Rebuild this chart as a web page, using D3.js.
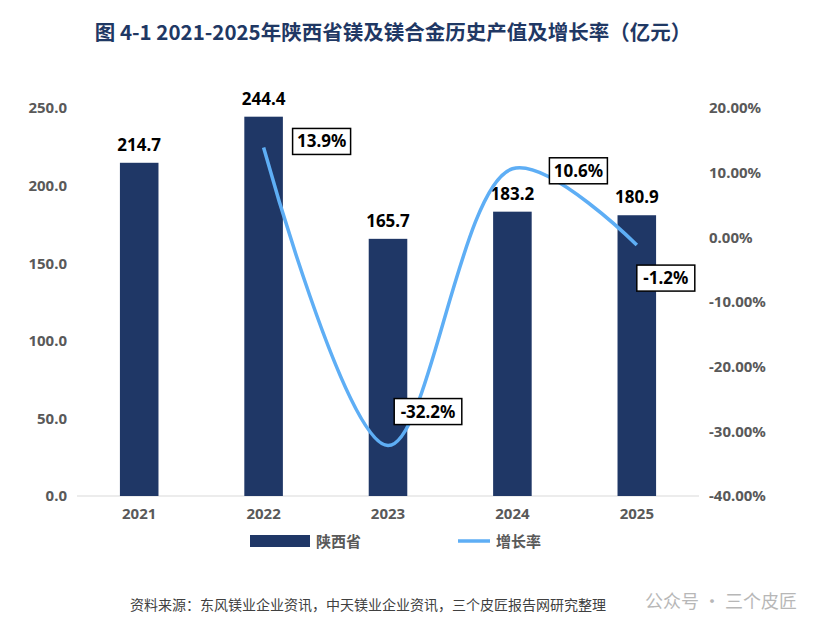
<!DOCTYPE html><html><head><meta charset="utf-8"><script src="https://cdn.jsdelivr.net/npm/d3@7"></script>
<style>body{margin:0;background:#fff;font-family:"Noto Sans CJK SC","Noto Sans",sans-serif}</style></head><body><svg id="c" width="814" height="634"></svg>
<script>
const years=["2021","2022","2023","2024","2025"];
const values=[214.7,244.4,165.7,183.2,180.9];
const growthYears=["2022","2023","2024","2025"];
const growth=[13.9,-32.2,10.6,-1.2];
const leftTicks=[0,50,100,150,200,250];
const rightTicks=[-40,-30,-20,-10,0,10,20];
const svg=d3.select("#c");
const x=d3.scaleBand().domain(years).range([77,699]).paddingInner(0.69).paddingOuter(0.345);
const y=d3.scaleLinear().domain([0,250]).range([496,108]);
const y2=d3.scaleLinear().domain([-40,20]).range([496,108]);
svg.append("text").attr("x",393).attr("y",40).attr("text-anchor","middle").attr("font-size",20.5).attr("font-weight","bold").attr("fill","#1f3864").text("图  4-1 2021-2025年陕西省镁及镁合金历史产值及增长率（亿元）");
const ga=svg.append("g").attr("transform","translate(77,0)").call(d3.axisLeft(y).tickValues(leftTicks).tickFormat(d3.format(".1f")).tickSize(0).tickPadding(10));
const gr=svg.append("g").attr("transform","translate(699,0)").call(d3.axisRight(y2).tickValues(rightTicks).tickFormat(d=>d.toFixed(2)+"%").tickSize(0).tickPadding(10));
const gx=svg.append("g").attr("transform","translate(0,496)").call(d3.axisBottom(x).tickSize(0).tickPadding(12));
[ga,gr,gx].forEach(g=>{g.select(".domain").remove();g.selectAll("text").attr("font-size",15).attr("font-weight","bold").attr("fill","#595959").attr("font-family","Noto Sans, sans-serif");});
svg.append("line").attr("x1",77).attr("x2",699).attr("y1",496).attr("y2",496).attr("stroke","#d9d9d9");
svg.selectAll(".b").data(values).join("rect").attr("x",(d,i)=>x(years[i])).attr("width",x.bandwidth()).attr("y",d=>y(d)).attr("height",d=>496-y(d)).attr("fill","#1f3766");
svg.selectAll(".bl").data(values).join("text").attr("x",(d,i)=>x(years[i])+x.bandwidth()/2).attr("y",d=>y(d)-12).attr("text-anchor","middle").attr("font-size",17).attr("font-weight","bold").attr("fill","#000").attr("font-family","Noto Sans, sans-serif").text(d=>d.toFixed(1));
const cx=d=>x(d)+x.bandwidth()/2;
const line=d3.line().x((d,i)=>cx(growthYears[i])).y(d=>y2(d)).curve(d3.curveCatmullRom.alpha(0.5));
svg.append("path").attr("d",line(growth)).attr("fill","none").attr("stroke","#5eaef5").attr("stroke-width",3.5);
const off=[[58,-6],[40,-34],[66,2],[29,33]];
growth.forEach((g,i)=>{const px=cx(growthYears[i])+off[i][0],py=y2(g)+off[i][1];
 const t=(g.toFixed(1)+"%");const w=t.length*9.6+10;
 svg.append("rect").attr("x",px-w/2).attr("y",py-13).attr("width",w).attr("height",26).attr("fill","#fff").attr("stroke","#000").attr("stroke-width",1.5);
 svg.append("text").attr("x",px).attr("y",py+6).attr("text-anchor","middle").attr("font-size",17).attr("font-weight","bold").attr("font-family","Noto Sans, sans-serif").text(t);});
svg.append("rect").attr("x",250).attr("y",535).attr("width",60).attr("height",12).attr("fill","#1f3766");
svg.append("text").attr("x",316).attr("y",547).attr("font-size",15).attr("font-weight","bold").attr("fill","#595959").text("陕西省");
svg.append("line").attr("x1",458).attr("x2",490).attr("y1",541).attr("y2",541).attr("stroke","#5eaef5").attr("stroke-width",3.5);
svg.append("text").attr("x",496).attr("y",547).attr("font-size",15).attr("font-weight","bold").attr("fill","#595959").text("增长率");
svg.append("text").attr("x",130).attr("y",610).attr("font-size",14).attr("fill","#404040").text("资料来源：东风镁业企业资讯，中天镁业企业资讯，三个皮匠报告网研究整理");
svg.append("text").attr("x",645).attr("y",608).attr("font-size",18).attr("fill","#9a9a9a").attr("opacity",0.7).text("公众号 · 三个皮匠");
</script></body></html>
